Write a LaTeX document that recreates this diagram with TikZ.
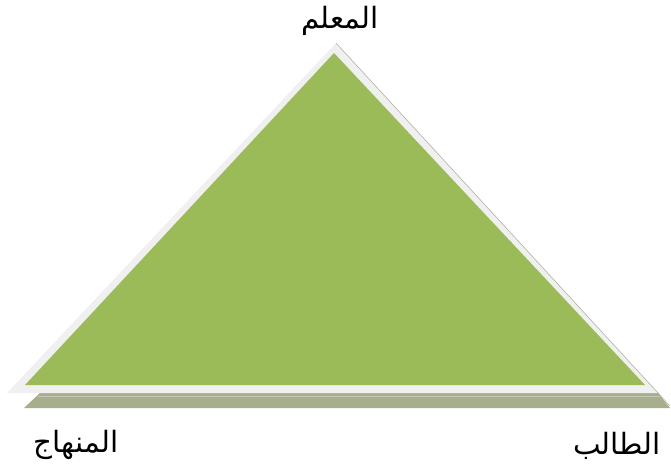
\documentclass[tikz,border=0pt]{standalone}
\usepackage{fontspec}
\newfontfamily\arabicfont[Script=Arabic]{DejaVu Sans}
\TeXXeTstate=1
\usepackage{xcolor}
\definecolor{TriGreen}{HTML}{9BBB59}
\definecolor{TriRim}{HTML}{F0F0F0}
\definecolor{TriShade}{HTML}{A6AE8E}
\definecolor{TriEdge}{HTML}{A9AD9C}
\usetikzlibrary{positioning}

\begin{document}
\begin{tikzpicture}[x=0.75pt, y=-0.75pt,
  lbl/.style={font=\arabicfont\fontsize{22}{26}\selectfont, inner sep=0pt}
]
\useasboundingbox (0,0) rectangle (671,475);
\coordinate (top) at (336,43);
\coordinate (left) at (7,393);
\coordinate (right) at (658,393);

% shadow under the base
\fill[TriShade] (40,393) -- (658,393) -- (670,408) -- (24,408) -- cycle;
\draw[white, opacity=0.35, thin] (38,396) -- (660,396);
% light rim and its edge
\fill[TriRim] (top) -- (right) -- (left) -- cycle;
\draw[TriEdge, thin] (top) -- (670,406);
% green face
\fill[TriGreen] (334,53) -- (645,385) -- (25,385) -- cycle;

\node[lbl] (teacher) at (340,21) {\beginR المعلم\endR};
\node[lbl] (curriculum) at (76,445) {\beginR المنهاج\endR};
\node[lbl] (student) at (617,446) {\beginR الطالب\endR};
\end{tikzpicture}
\end{document}
